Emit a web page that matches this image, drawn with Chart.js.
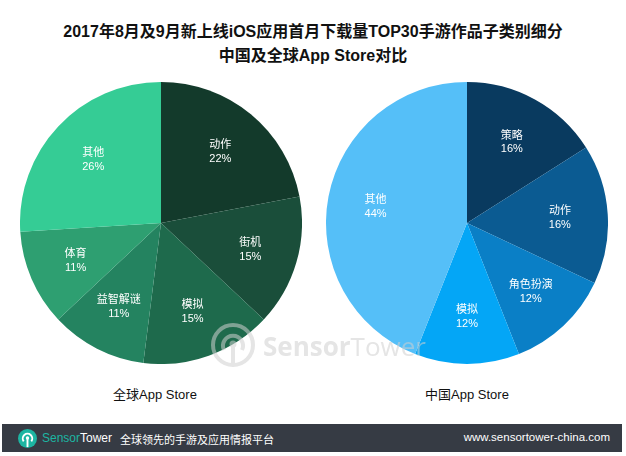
<!DOCTYPE html>
<html><head><meta charset="utf-8">
<script src="https://cdn.jsdelivr.net/npm/chart.js@4.4.1/dist/chart.umd.min.js"></script>
<style>
html,body{margin:0;padding:0;background:#fff;width:626px;height:456px;overflow:hidden;font-family:"Liberation Sans","Noto Sans CJK SC",sans-serif;}
#title{position:absolute;left:0;top:20px;width:626px;text-align:center;font-weight:bold;font-size:16px;line-height:24px;color:#111;}
.cv{position:absolute;}
.sub{position:absolute;top:384px;font-size:13px;color:#111;text-align:center;width:200px;}
#wm{position:absolute;left:208px;top:320px;width:230px;height:50px;pointer-events:none;opacity:0.55;}
#footer{position:absolute;left:2px;top:424px;width:620px;height:28px;background:#363b44;color:#fff;}
</style></head><body>
<div id="title">2017年8月及9月新上线iOS应用首月下载量TOP30手游作品子类别细分<br>中国及全球App Store对比</div>
<div class="cv" style="left:20px;top:82px;width:282px;height:282px"><canvas id="c1" width="282" height="282"></canvas></div>
<div class="cv" style="left:326px;top:82px;width:282px;height:282px"><canvas id="c2" width="282" height="282"></canvas></div>
<div class="sub" style="left:55px">全球App Store</div>
<div class="sub" style="left:367px">中国App Store</div>
<svg id="wm" viewBox="0 0 230 50" xmlns="http://www.w3.org/2000/svg">
  <circle cx="25" cy="25" r="20" fill="none" stroke="#cfcfcf" stroke-width="4"/>
  <path d="M16 30 A10 10 0 1 1 34 30" fill="none" stroke="#cfcfcf" stroke-width="4"/>
  <line x1="25" y1="26" x2="25" y2="46" stroke="#cfcfcf" stroke-width="4"/>
  <circle cx="25" cy="24" r="3.5" fill="#cfcfcf"/>
  <text x="55" y="36" font-family="Open Sans, Liberation Sans, sans-serif" font-size="26" fill="#cfcfcf"><tspan font-weight="bold">Sensor</tspan><tspan>Tower</tspan></text>
</svg>
<div id="footer">
  <svg style="position:absolute;left:16px;top:5px" width="19" height="19" viewBox="0 0 20 20">
    <circle cx="10" cy="10" r="10" fill="#1db5a2"/>
    <path d="M6 13 A5 5 0 1 1 14 13" fill="none" stroke="#fff" stroke-width="2"/>
    <line x1="10" y1="10" x2="10" y2="19" stroke="#fff" stroke-width="2"/>
    <circle cx="10" cy="9.5" r="1.8" fill="#fff"/>
  </svg>
  <div style="position:absolute;left:40px;top:7px;font-size:12px;font-family:'Liberation Sans',sans-serif;white-space:nowrap;"><span style="color:#1db5a2">Sensor</span><span>Tower</span></div>
  <div style="position:absolute;left:118px;top:7px;font-size:11px;font-family:'Noto Sans CJK SC',sans-serif;white-space:nowrap;">全球领先的手游及应用情报平台</div>
  <div style="position:absolute;right:12px;top:7px;font-size:11.5px;">www.sensortower-china.com</div>
</div>
<script>
const globalCategories = ["动作","街机","模拟","益智解谜","体育","其他"];
const globalValues = [22,15,15,11,11,26];
const globalColors = ["#133a2b","#1a4e3a","#1e6a4c","#248360","#2e9f71","#35cc95"];
const chinaCategories = ["策略","动作","角色扮演","模拟","其他"];
const chinaValues = [16,16,12,12,44];
const chinaColors = ["#093a5f","#0b5b92","#0a7fc6","#04a6f6","#55bff8"];

const sliceLabels = {
  id:'sliceLabels',
  afterDatasetsDraw(chart){
    const ctx = chart.ctx;
    const meta = chart.getDatasetMeta(0);
    const labels = chart.data.labels;
    const vals = chart.data.datasets[0].data;
    ctx.save();
    ctx.fillStyle = '#fff';
    ctx.textAlign = 'center';
    ctx.textBaseline = 'middle';
    meta.data.forEach((arc,i)=>{
      const p = arc.getProps(['x','y','startAngle','endAngle','outerRadius'],true);
      const a = (p.startAngle+p.endAngle)/2;
      const r = p.outerRadius*0.66;
      const x = p.x + Math.cos(a)*r, y = p.y + Math.sin(a)*r;
      ctx.font = '11px "Noto Sans CJK SC", sans-serif';
      ctx.fillText(labels[i], x, y-7);
      ctx.font = '11px "Liberation Sans", sans-serif';
      ctx.fillText(vals[i]+'%', x, y+8);
    });
    ctx.restore();
  }
};

function makePie(id, cats, vals, cols){
  new Chart(document.getElementById(id), {
    type:'pie',
    data:{labels:cats, datasets:[{data:vals, backgroundColor:cols, borderWidth:0}]},
    options:{responsive:false, animation:false, layout:{padding:0},
      plugins:{legend:{display:false}, tooltip:{enabled:false}}},
    plugins:[sliceLabels]
  });
}
makePie('c1', globalCategories, globalValues, globalColors);
makePie('c2', chinaCategories, chinaValues, chinaColors);
</script>
</body></html>
